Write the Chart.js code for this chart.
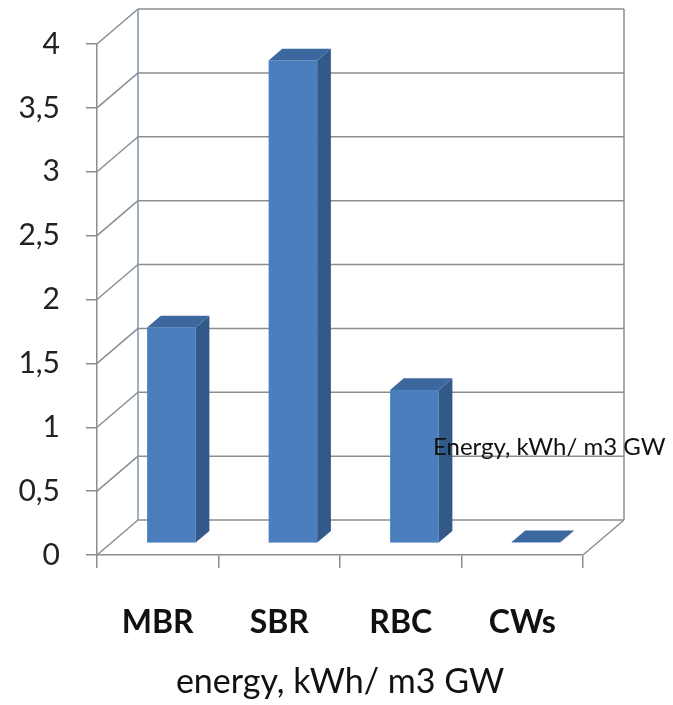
<!DOCTYPE html>
<html>
<head>
<meta charset="utf-8">
<script src="https://cdn.jsdelivr.net/npm/chart.js@4.4.1/dist/chart.umd.min.js"></script>
<style>
  html, body { margin: 0; padding: 0; background: #ffffff; }
  #wrap { width: 673px; height: 705px; }
</style>
</head>
<body>
<div id="wrap"><canvas id="chart" width="673" height="705"></canvas></div>
<script>
// Energy demand per treatment technology
const categories = ['MBR', 'SBR', 'RBC', 'CWs'];
const energyValues = [1.69, 3.78, 1.2, 0.01];
const seriesLabel = 'Energy, kWh/ m3 GW';
const axisTitle = 'energy, kWh/ m3 GW';
const yMin = 0;
const yMax = 4;
const yStep = 0.5;

// 3D look: depth offset of the back wall and the slab a bar occupies in it
const DEPTH_DX = 41;
const DEPTH_DY = -35;
const BAR_NEAR = 1 / 3;
const BAR_FAR = 2 / 3;
const LINE_COLOR = '#8a8d92';
const WALL_EDGE = '#7f93ae';
const FACE_FRONT = '#4a7ebd';
const FACE_SIDE = '#33598a';
const FACE_TOP = '#3c679f';

function line(ctx, x1, y1, x2, y2) {
  ctx.beginPath();
  ctx.moveTo(x1, y1);
  ctx.lineTo(x2, y2);
  ctx.stroke();
}

const box3d = {
  id: 'box3d',
  beforeDatasetsDraw(chart) {
    const { ctx, chartArea, scales } = chart;
    const y = scales.y;
    const left = chartArea.left, right = chartArea.right;
    const y0 = y.getPixelForValue(yMin);
    const yTop = y.getPixelForValue(yMax);
    ctx.save();
    ctx.lineWidth = 1.5;
    ctx.strokeStyle = LINE_COLOR;
    // gridlines across the side wall and the back wall
    y.ticks.forEach(t => {
      const yp = y.getPixelForValue(t.value);
      line(ctx, left, yp, left + DEPTH_DX, yp + DEPTH_DY);
      line(ctx, left + DEPTH_DX, yp + DEPTH_DY, right + DEPTH_DX, yp + DEPTH_DY);
    });
    // floor edge on the right
    line(ctx, right, y0, right + DEPTH_DX, y0 + DEPTH_DY);
    // back wall frame
    ctx.strokeStyle = WALL_EDGE;
    line(ctx, left + DEPTH_DX, y0 + DEPTH_DY, left + DEPTH_DX, yTop + DEPTH_DY);
    ctx.strokeStyle = LINE_COLOR;
    line(ctx, right + DEPTH_DX, y0 + DEPTH_DY, right + DEPTH_DX, yTop + DEPTH_DY);
    ctx.restore();
  },
  afterDatasetsDraw(chart) {
    const { ctx } = chart;
    const meta = chart.getDatasetMeta(0);
    const sx = BAR_NEAR * DEPTH_DX, sy = BAR_NEAR * DEPTH_DY;
    const dx = (BAR_FAR - BAR_NEAR) * DEPTH_DX, dy = (BAR_FAR - BAR_NEAR) * DEPTH_DY;
    ctx.save();
    meta.data.forEach(bar => {
      const p = bar.getProps(['x', 'y', 'base', 'width'], true);
      const xl = p.x - p.width / 2 + sx;
      const xr = p.x + p.width / 2 + sx;
      const top = p.y + sy;
      const bottom = p.base + sy;
      // front face
      ctx.fillStyle = FACE_FRONT;
      ctx.fillRect(xl, top, xr - xl, bottom - top);
      // right side face
      ctx.fillStyle = FACE_SIDE;
      ctx.beginPath();
      ctx.moveTo(xr, top);
      ctx.lineTo(xr + dx, top + dy);
      ctx.lineTo(xr + dx, bottom + dy);
      ctx.lineTo(xr, bottom);
      ctx.closePath();
      ctx.fill();
      // top face
      ctx.fillStyle = FACE_TOP;
      ctx.beginPath();
      ctx.moveTo(xl, top);
      ctx.lineTo(xl + dx, top + dy);
      ctx.lineTo(xr + dx, top + dy);
      ctx.lineTo(xr, top);
      ctx.closePath();
      ctx.fill();
    });
    ctx.restore();
  },
  afterDraw(chart) {
    // series name, placed inside the plot like a floating legend entry
    const { ctx } = chart;
    ctx.save();
    ctx.font = '24px Lato';
    ctx.fillStyle = '#111111';
    ctx.textAlign = 'left';
    ctx.textBaseline = 'alphabetic';
    ctx.fillText(chart.data.datasets[0].label, 433, 455);
    ctx.restore();
  }
};

new Chart(document.getElementById('chart'), {
  type: 'bar',
  data: {
    labels: categories,
    datasets: [{
      label: seriesLabel,
      data: energyValues,
      backgroundColor: 'rgba(0,0,0,0)',
      borderWidth: 0,
      categoryPercentage: 0.8,
      barPercentage: 0.5
    }]
  },
  options: {
    responsive: false,
    animation: false,
    layout: { padding: { top: 43, right: 90, bottom: 2, left: 0 } },
    plugins: {
      legend: { display: false },
      tooltip: { enabled: false }
    },
    scales: {
      x: {
        grid: { drawOnChartArea: false, drawTicks: true, tickLength: 13, color: LINE_COLOR, lineWidth: 1.5, offset: true },
        border: { display: true, color: LINE_COLOR, width: 1.5 },
        ticks: { font: { family: 'Lato', size: 32, weight: 'bold' }, color: '#111111', padding: 35 },
        title: { display: true, text: axisTitle, font: { family: 'Lato', size: 34 }, color: '#111111', padding: { top: 0, bottom: 1 } },
        afterFit(scale) { scale.height = 148; }
      },
      y: {
        min: yMin,
        max: yMax,
        grid: { drawOnChartArea: false, drawTicks: true, tickLength: 11, color: LINE_COLOR, lineWidth: 1.5 },
        border: { display: true, color: LINE_COLOR, width: 1.5 },
        ticks: {
          stepSize: yStep,
          font: { family: 'Lato', size: 30 },
          color: '#222222',
          padding: 26,
          callback: v => String(v).replace('.', ',')
        },
        afterFit(scale) { scale.width = 97; }
      }
    }
  },
  plugins: [box3d]
});
</script>
</body>
</html>
